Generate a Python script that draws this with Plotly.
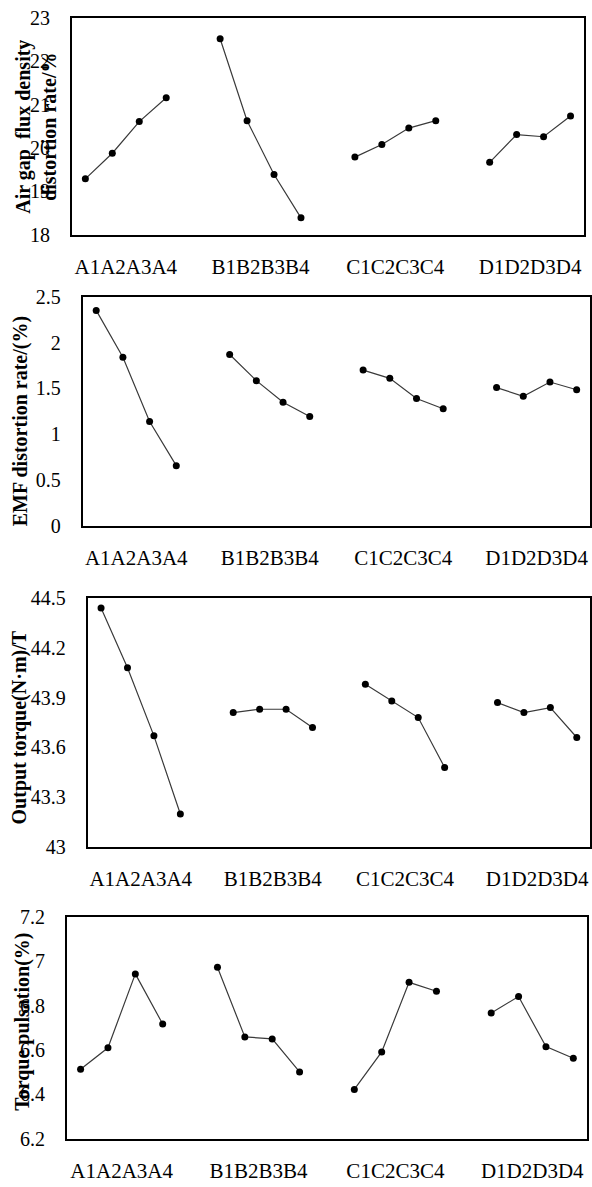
import plotly.graph_objects as go

W, H = 592, 1187

groups = ["A1A2A3A4", "B1B2B3B4", "C1C2C3C4", "D1D2D3D4"]

air_gap = [19.29, 19.88, 20.61, 21.16,
           22.52, 20.63, 19.39, 18.39,
           19.79, 20.08, 20.46, 20.63,
           19.67, 20.31, 20.26, 20.74]
emf = [2.35, 1.84, 1.14, 0.66,
       1.87, 1.585, 1.35, 1.195,
       1.70, 1.61, 1.39, 1.28,
       1.51, 1.415, 1.57, 1.486]
torque = [44.44, 44.08, 43.67, 43.20,
          43.81, 43.83, 43.83, 43.72,
          43.98, 43.88, 43.78, 43.48,
          43.87, 43.81, 43.84, 43.66]
ripple = [6.513, 6.61, 6.943, 6.717,
          6.973, 6.659, 6.65, 6.501,
          6.422, 6.591, 6.905, 6.865,
          6.767, 6.841, 6.615, 6.563]

titles = ["Air gap  flux density<br>distortion rate/%",
          "EMF distortion rate/(%)",
          "Output torque(N·m)/T",
          "Torque pulsation(%)"]
yranges = [(18, 23), (0, 2.5), (43, 44.5), (6.2, 7.2)]
ydticks = [1, 0.5, 0.3, 0.2]

# panel boxes in pixels: left, right, top, bottom
boxes = [(72, 585, 7, 228), (83, 591, 291, 525), (88, 591, 598, 852), (67, 588, 923, 1149)]
title_pos = [(36, 118), (20, 418), (20, 730), (23, 1030)]

FONT = "Liberation Serif, Times New Roman, serif"
series = [air_gap, emf, torque, ripple]

fig = go.Figure()
for p, vals in enumerate(series):
    xa = "x" if p == 0 else f"x{p+1}"
    ya = "y" if p == 0 else f"y{p+1}"
    for g in range(4):
        xs = [g * 5 + i for i in range(4)]
        fig.add_trace(go.Scatter(
            x=xs, y=vals[g * 4:(g + 1) * 4], xaxis=xa, yaxis=ya,
            mode="lines+markers",
            line=dict(color="#3a3a3a", width=1.2),
            marker=dict(color="black", size=7),
            showlegend=False, hoverinfo="skip"))

layout = dict(width=W, height=H, margin=dict(l=0, r=0, t=0, b=0),
              paper_bgcolor="white", plot_bgcolor="white",
              font=dict(family=FONT, size=20, color="black"))
annotations = []
for p in range(4):
    l, r, t, b = boxes[p]
    kx = "xaxis" if p == 0 else f"xaxis{p+1}"
    ky = "yaxis" if p == 0 else f"yaxis{p+1}"
    ya = "y" if p == 0 else f"y{p+1}"
    xa = "x" if p == 0 else f"x{p+1}"
    layout[kx] = dict(domain=[l / W, r / W], range=[-0.5, 18.5], anchor=ya,
                      tickvals=[g * 5 + 1.5 for g in range(4)], ticktext=groups,
                      showgrid=False, zeroline=False, showline=True, mirror=True,
                      linecolor="black", linewidth=2, ticks="", ticklabelstandoff=12,
                      tickfont=dict(family=FONT, size=21, color="black"))
    y0, y1 = yranges[p]
    layout[ky] = dict(domain=[1 - b / H, 1 - t / H], range=[y0, y1], anchor=xa,
                      tick0=y0, dtick=ydticks[p],
                      showgrid=False, zeroline=False, showline=True, mirror=True,
                      linecolor="black", linewidth=2, ticks="", ticklabelstandoff=16,
                      tickfont=dict(family=FONT, size=20, color="black"))
    tx, ty = title_pos[p]
    annotations.append(dict(text="<b>" + titles[p].replace("<br>", "</b><br><b>") + "</b>",
                            xref="paper", yref="paper", x=tx / W, y=1 - ty / H,
                            xanchor="center", yanchor="middle", textangle=-90,
                            showarrow=False,
                            font=dict(family=FONT, size=20, color="black")))
layout["annotations"] = annotations
fig.update_layout(**layout)
fig.write_html("out.html", config={"displayModeBar": False},
               post_script="document.body.style.margin='0';document.body.style.overflow='hidden';")
